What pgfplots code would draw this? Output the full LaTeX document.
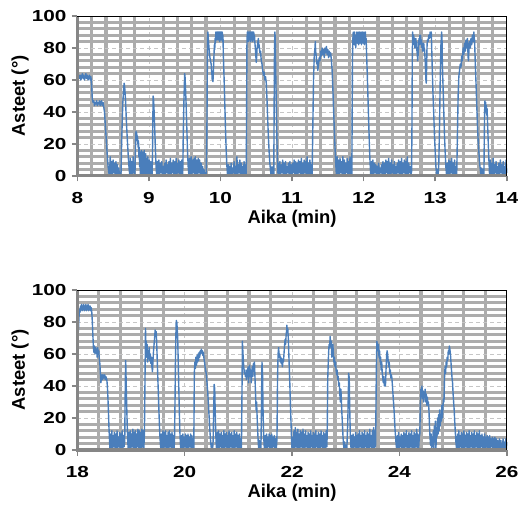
\documentclass[border=0pt]{standalone}
\usepackage{fontspec}
\setmainfont{Liberation Sans}
\usepackage{pgfplots}
\pgfplotsset{compat=1.18}
\definecolor{gridgray}{RGB}{172,172,172}
\definecolor{axgray}{RGB}{134,134,134}
\definecolor{lineblue}{RGB}{74,126,187}
\pgfplotsset{
 panel/.style={
  scale only axis, width=429.5bp, height=160bp,
  ymin=0, ymax=100, ytick={0,20,...,100},
  minor y tick num=4, minor x tick num=4,
  grid=both,
  minor grid style={draw=gridgray, line width=3.3bp},
  major grid style={draw=gray!45, line width=0.7bp, dash pattern=on 4bp off 3bp},
  axis line style={draw=none},
  tick align=outside, tick pos=left,
  major tick length=5.5bp, minor tick length=0bp,
  major tick style={draw=axgray, line width=1.5bp},
  /pgf/number format/assume math mode=true,
  ticklabel style={font=\fontsize{16}{16}\selectfont\bfseries, xscale=1.3, inner sep=0pt},
  yticklabel style={xshift=-4bp},
  xticklabel style={yshift=-11bp},
  label style={font=\fontsize{18.5}{18.5}\selectfont\bfseries, inner sep=0pt},
  xlabel style={at={(axis description cs:0.5,-0.212)}, anchor=north},
  ylabel style={at={(axis description cs:-0.122,0.5)}, anchor=base, rotate=0},
  xlabel={Aika (min)}, ylabel={Asteet (°)},
  clip=false,
 },
 dataline/.style={lineblue, line width=1.4bp, line join=round},
}
\newcommand{\frameaxes}{%
  \draw[axgray, line width=3bp] (rel axis cs:0,1) -- (rel axis cs:0,0) -- (rel axis cs:1,0);
  \draw[black, line width=0.9bp] (rel axis cs:0,1) -- (rel axis cs:1,1) -- (rel axis cs:1,0);
}
\begin{document}
\begin{tikzpicture}
\useasboundingbox (-77.3bp,-59bp) rectangle (440.7bp,450bp);
% ---------------- top panel ----------------
\begin{axis}[panel, at={(0,274bp)}, xmin=8, xmax=14, xtick={8,...,14}]
\addplot[dataline] coordinates {
(8.000,58)(8.004,76)(8.008,63)(8.015,61)(8.02,63)(8.03,61)(8.04,63)(8.05,60)(8.06,62)(8.07,64)(8.08,61)(8.09,63)(8.10,60)(8.11,62)(8.12,64)(8.13,61)(8.14,63)(8.15,60)(8.16,62)(8.17,63)(8.18,60)(8.19,62)(8.20,57)(8.21,48)(8.22,46)(8.23,47)(8.24,44)(8.25,46)(8.26,45)(8.27,47)(8.28,44)(8.29,46)(8.30,45)(8.31,47)(8.32,44)(8.33,46)(8.34,47)(8.35,44)(8.36,46)(8.37,43)(8.38,40)(8.39,33)(8.40,26)(8.41,19)(8.42,12)(8.43,6)(8.44,2)(8.45,0)
(8.46,12)(8.47,1)(8.48,9)(8.49,0)(8.50,10)(8.51,2)(8.52,8)(8.53,0)(8.54,9)(8.55,1)(8.56,7)(8.57,0)(8.58,5)(8.59,0)(8.60,2)
(8.61,0)(8.62,22)(8.635,45)(8.65,56)(8.655,58)(8.665,54)(8.675,46)(8.685,35)(8.695,26)(8.705,18)(8.715,10)(8.725,4)(8.735,0)
(8.74,11)(8.75,1)(8.76,9)(8.77,0)(8.78,12)(8.79,2)(8.80,7)(8.805,0)
(8.815,22)(8.82,28)(8.825,25)(8.83,27)(8.835,22)(8.84,25)(8.85,18)(8.855,22)(8.86,12)(8.865,18)(8.87,6)(8.875,15)(8.88,1)(8.885,14)(8.89,0)(8.895,16)(8.90,3)(8.905,12)(8.91,0)(8.915,15)(8.92,2)(8.925,11)(8.93,0)(8.935,16)(8.94,3)(8.945,12)(8.95,0)(8.955,14)(8.96,2)(8.965,11)(8.97,0)(8.975,9)(8.98,2)(8.985,12)(8.99,0)(8.995,8)(9.00,1)(9.005,10)(9.01,0)(9.015,8)(9.02,1)(9.025,9)(9.03,0)(9.035,6)(9.045,0)
(9.05,12)(9.055,35)(9.06,50)(9.065,48)(9.07,44)(9.08,32)(9.09,18)(9.10,6)(9.11,0)
(9.12,9)(9.13,1)(9.14,10)(9.15,0)(9.16,8)(9.17,2)(9.18,9)(9.19,0)(9.20,6)(9.21,1)(9.22,8)(9.23,0)(9.24,10)(9.25,2)(9.26,7)(9.27,0)(9.28,9)(9.29,1)(9.30,11)(9.31,0)(9.32,8)(9.33,2)(9.34,10)(9.35,0)(9.36,9)(9.37,1)(9.38,11)(9.39,0)(9.40,8)(9.41,2)(9.42,10)(9.43,0)(9.44,9)(9.45,1)(9.46,10)(9.47,0)
(9.475,6)(9.48,25)(9.49,48)(9.50,64)(9.505,62)(9.51,57)(9.52,45)(9.53,30)(9.54,15)(9.55,5)(9.56,0)
(9.57,11)(9.58,1)(9.59,12)(9.60,0)(9.61,10)(9.62,2)(9.63,11)(9.64,0)(9.65,12)(9.66,1)(9.67,10)(9.68,0)(9.69,11)(9.70,2)(9.71,10)(9.72,0)(9.73,8)(9.74,1)(9.75,6)(9.76,0)(9.77,4)(9.78,0)(9.79,2)(9.80,0)
(9.81,25)(9.815,60)(9.82,85)(9.825,90)(9.83,86)(9.84,80)(9.85,75)(9.86,72)(9.87,70)(9.875,66)(9.88,64)(9.885,60)(9.89,63)(9.895,59)(9.90,64)(9.905,70)(9.91,76)(9.915,82)(9.92,79)(9.925,86)(9.93,83)(9.935,90)(9.94,86)(9.945,90)(9.95,85)(9.955,90)(9.96,86)(9.965,90)(9.97,85)(9.975,90)(9.98,86)(9.985,90)(9.99,84)(9.995,90)(10.00,86)(10.005,90)(10.01,85)(10.015,90)(10.02,86)(10.025,90)(10.03,84)(10.035,88)(10.04,76)(10.05,62)(10.06,46)(10.07,30)(10.08,16)(10.09,6)(10.10,0)
(10.11,7)(10.12,0)(10.13,6)(10.14,1)(10.15,8)(10.16,0)(10.17,5)(10.18,2)(10.19,9)(10.20,0)(10.21,6)(10.22,1)(10.23,12)(10.24,0)(10.25,7)(10.26,2)(10.27,10)(10.28,0)(10.29,8)(10.30,1)(10.31,6)(10.32,0)(10.33,9)(10.34,1)(10.35,7)(10.36,0)
(10.365,40)(10.37,82)(10.375,90)(10.38,85)(10.385,90)(10.39,84)(10.395,90)(10.40,86)(10.405,90)(10.41,85)(10.415,90)(10.42,84)(10.425,90)(10.43,86)(10.435,90)(10.44,85)(10.445,90)(10.45,84)(10.455,90)(10.46,86)(10.465,90)(10.47,85)(10.475,88)(10.48,84)(10.49,78)(10.50,71)(10.505,74)(10.51,79)(10.52,83)(10.53,86)(10.535,80)(10.54,82)(10.55,77)(10.56,78)(10.57,72)(10.58,70)(10.59,66)(10.60,63)(10.61,65)(10.62,60)(10.63,62)(10.64,58)(10.65,48)(10.66,35)(10.67,24)(10.68,15)(10.69,8)(10.70,3)(10.71,0)
(10.72,6)(10.73,0)(10.74,4)(10.745,0)(10.75,45)(10.755,80)(10.76,90)(10.765,86)(10.77,70)(10.78,45)(10.79,20)(10.80,5)(10.805,0)
(10.81,8)(10.82,1)(10.83,9)(10.84,0)(10.85,7)(10.86,2)(10.87,10)(10.88,0)(10.89,8)(10.90,1)(10.91,9)(10.92,0)(10.93,6)(10.94,2)(10.95,8)(10.96,0)(10.97,9)(10.98,1)(10.99,7)(11.00,0)(11.01,8)(11.02,2)(11.03,10)(11.04,0)(11.05,9)(11.06,1)(11.07,8)(11.08,0)(11.09,10)(11.10,2)(11.11,9)(11.12,0)(11.13,11)(11.14,1)(11.15,8)(11.16,0)(11.17,10)(11.18,2)(11.19,9)(11.20,0)(11.21,12)(11.22,1)(11.23,8)(11.24,0)(11.25,10)(11.26,1)(11.27,7)(11.28,0)
(11.29,30)(11.30,60)(11.31,75)(11.32,80)(11.325,84)(11.33,78)(11.34,74)(11.345,70)(11.35,72)(11.36,66)(11.37,70)(11.38,74)(11.39,72)(11.40,78)(11.41,75)(11.42,80)(11.43,76)(11.44,79)(11.45,74)(11.46,80)(11.47,77)(11.48,81)(11.49,76)(11.50,79)(11.51,74)(11.52,78)(11.53,75)(11.54,77)(11.55,72)(11.56,66)(11.57,55)(11.58,42)(11.59,30)(11.60,18)(11.61,8)(11.62,0)
(11.63,12)(11.64,1)(11.65,10)(11.66,0)(11.67,11)(11.68,2)(11.69,9)(11.70,0)(11.71,12)(11.72,1)(11.73,10)(11.74,0)(11.75,8)(11.76,2)(11.77,11)(11.78,0)(11.79,9)(11.80,1)(11.81,12)(11.82,0)(11.83,6)(11.835,0)
(11.84,40)(11.845,75)(11.85,86)(11.855,90)(11.86,84)(11.865,89)(11.87,82)(11.875,90)(11.88,85)(11.885,88)(11.89,80)(11.895,87)(11.90,84)(11.905,90)(11.91,83)(11.915,88)(11.92,85)(11.925,90)(11.93,82)(11.935,88)(11.94,86)(11.945,90)(11.95,83)(11.955,89)(11.96,85)(11.965,90)(11.97,82)(11.975,88)(11.98,84)(11.985,90)(11.99,83)(11.995,87)(12.00,85)(12.005,90)(12.01,82)(12.015,88)(12.02,84)(12.025,90)(12.03,83)(12.035,86)(12.04,78)(12.05,65)(12.06,50)(12.07,35)(12.08,20)(12.09,8)(12.10,0)
(12.11,9)(12.12,1)(12.13,10)(12.14,0)(12.15,8)(12.16,2)(12.17,7)(12.18,0)(12.19,6)(12.20,1)(12.21,8)(12.22,0)(12.23,5)(12.24,2)(12.25,7)(12.26,0)(12.27,9)(12.28,1)(12.29,8)(12.30,0)(12.31,10)(12.32,2)(12.33,9)(12.34,0)(12.35,11)(12.36,1)(12.37,8)(12.38,0)(12.39,10)(12.40,2)(12.41,7)(12.42,0)(12.43,9)(12.44,1)(12.45,6)(12.46,0)(12.47,8)(12.48,2)(12.49,10)(12.50,0)(12.51,9)(12.52,1)(12.53,11)(12.54,0)(12.55,8)(12.56,2)(12.57,10)(12.58,0)(12.59,9)(12.60,1)(12.61,12)(12.62,0)(12.63,8)(12.64,2)(12.65,6)(12.66,0)(12.67,3)
(12.675,30)(12.68,75)(12.685,90)(12.69,86)(12.695,84)(12.70,88)(12.705,82)(12.71,86)(12.715,80)(12.72,85)(12.725,81)(12.73,86)(12.735,80)(12.74,84)(12.745,78)(12.75,76)(12.755,72)(12.76,75)(12.765,80)(12.77,84)(12.775,86)(12.78,82)(12.785,88)(12.79,85)(12.795,88)(12.80,84)(12.805,82)(12.81,85)(12.815,80)(12.82,83)(12.825,78)(12.83,82)(12.835,79)(12.84,83)(12.845,78)(12.85,80)(12.855,76)(12.86,72)(12.865,66)(12.87,60)(12.875,58)(12.88,68)(12.885,80)(12.89,85)(12.90,84)(12.91,88)(12.92,86)(12.93,90)(12.94,88)(12.945,90)(12.95,82)(12.96,65)(12.97,50)(12.98,38)(12.99,25)(13.00,15)(13.01,6)(13.02,0)
(13.03,4)(13.04,0)(13.05,8)(13.06,30)(13.07,60)(13.08,82)(13.09,90)(13.095,86)(13.10,70)(13.11,55)(13.12,40)(13.13,25)(13.14,14)(13.15,5)(13.16,0)
(13.17,8)(13.18,1)(13.19,10)(13.20,0)(13.21,9)(13.22,2)(13.23,11)(13.24,0)(13.25,8)(13.26,1)(13.27,10)(13.28,0)(13.29,6)(13.30,0)
(13.31,25)(13.32,50)(13.33,62)(13.34,66)(13.35,70)(13.36,68)(13.37,75)(13.38,72)(13.39,80)(13.40,76)(13.41,83)(13.42,78)(13.43,85)(13.44,80)(13.45,86)(13.46,74)(13.465,72)(13.47,78)(13.48,84)(13.49,80)(13.50,86)(13.51,82)(13.52,88)(13.53,84)(13.54,90)(13.545,86)(13.55,85)(13.56,70)(13.57,58)(13.58,45)(13.59,32)(13.60,22)(13.61,15)(13.62,8)(13.63,4)(13.64,0)(13.65,5)(13.66,0)(13.67,4)(13.68,0)
(13.685,20)(13.69,40)(13.695,47)(13.70,42)(13.705,46)(13.71,40)(13.715,44)(13.72,38)(13.725,42)(13.73,35)(13.74,22)(13.75,10)(13.76,0)
(13.77,10)(13.78,0)(13.79,8)(13.80,1)(13.81,11)(13.82,0)(13.83,7)(13.84,2)(13.85,9)(13.86,0)(13.87,6)(13.88,1)(13.89,8)(13.90,0)(13.91,10)(13.92,2)(13.93,7)(13.94,0)(13.95,9)(13.96,1)(13.97,6)(13.98,0)(13.99,10)(14.00,2)
};
\frameaxes
\end{axis}
% ---------------- bottom panel ----------------
\begin{axis}[panel, at={(0,0)}, xmin=18, xmax=26, xtick={18,20,...,26}]
\addplot[dataline] coordinates {
(18.000,60)(18.005,70)(18.01,66)(18.015,76)(18.02,74)(18.03,82)(18.04,88)(18.05,86)(18.06,90)(18.07,88)(18.08,91)(18.09,87)(18.10,90)(18.11,88)(18.12,91)(18.13,87)(18.14,90)(18.15,88)(18.16,91)(18.17,87)(18.18,90)(18.19,88)(18.20,91)(18.21,87)(18.22,90)(18.23,88)(18.24,90)(18.25,87)(18.26,89)(18.27,86)(18.28,80)(18.29,72)(18.30,64)(18.31,61)(18.32,65)(18.33,60)(18.34,64)(18.35,61)(18.36,63)(18.37,58)(18.38,64)(18.39,60)(18.40,62)(18.41,57)(18.42,54)(18.43,48)(18.44,42)(18.45,46)(18.46,47)(18.47,44)(18.48,47)(18.49,45)(18.50,46)(18.51,47)(18.52,44)(18.53,46)(18.54,45)(18.55,44)(18.56,40)(18.57,33)(18.58,24)(18.59,14)(18.60,6)(18.61,0)
(18.62,10)(18.632,1)(18.644,12)(18.656,0)(18.668,9)(18.68,2)(18.692,11)(18.704,0)(18.716,10)(18.728,1)(18.74,12)(18.752,0)(18.764,8)(18.776,2)(18.788,11)(18.80,0)(18.812,10)(18.824,1)(18.836,12)(18.848,0)(18.86,9)(18.872,2)(18.884,6)
(18.89,30)(18.90,56)(18.905,52)(18.91,42)(18.92,28)(18.93,15)(18.94,5)(18.95,0)
(18.962,11)(18.974,1)(18.986,12)(18.998,0)(19.01,10)(19.022,2)(19.034,13)(19.046,0)(19.058,11)(19.07,1)(19.082,12)(19.094,0)(19.106,10)(19.118,2)(19.13,13)(19.142,0)(19.154,12)(19.166,1)(19.178,11)(19.19,0)(19.202,13)(19.214,2)(19.226,12)(19.238,0)(19.25,10)
(19.26,40)(19.27,76)(19.275,70)(19.28,60)(19.285,68)(19.29,58)(19.30,66)(19.31,55)(19.32,62)(19.33,57)(19.34,64)(19.35,56)(19.36,60)(19.37,54)(19.38,58)(19.39,52)(19.40,49)(19.41,56)(19.42,62)(19.43,66)(19.44,70)(19.45,75)(19.46,71)(19.47,74)(19.48,66)(19.49,55)(19.50,45)(19.51,35)(19.52,25)(19.53,15)(19.54,8)(19.55,3)(19.56,0)
(19.572,10)(19.584,1)(19.596,12)(19.608,0)(19.62,11)(19.632,2)(19.644,12)(19.656,0)(19.668,9)(19.68,1)(19.692,11)(19.704,0)(19.716,12)(19.728,2)(19.74,10)(19.752,0)(19.764,11)(19.776,1)(19.788,9)(19.80,0)(19.81,5)
(19.82,30)(19.83,60)(19.84,78)(19.845,81)(19.85,79)(19.855,80)(19.86,76)(19.87,70)(19.88,55)(19.89,40)(19.90,25)(19.91,12)(19.92,4)(19.93,0)
(19.942,9)(19.954,1)(19.966,10)(19.978,0)(19.99,8)(20.002,2)(20.014,10)(20.026,0)(20.038,9)(20.05,1)(20.062,10)(20.074,0)(20.086,8)(20.098,2)(20.11,10)(20.122,0)(20.134,9)(20.146,1)(20.158,7)(20.17,0)
(20.175,25)(20.18,48)(20.19,55)(20.20,51)(20.21,58)(20.22,53)(20.23,59)(20.24,55)(20.25,60)(20.26,56)(20.27,61)(20.28,58)(20.29,62)(20.30,60)(20.31,63)(20.32,61)(20.33,62)(20.34,59)(20.35,61)(20.36,57)(20.37,55)(20.38,52)(20.39,50)(20.40,48)(20.41,45)(20.42,40)(20.43,36)(20.44,30)(20.45,24)(20.46,18)(20.47,12)(20.48,7)(20.49,3)(20.50,0)(20.51,4)(20.52,0)(20.53,6)(20.54,25)(20.55,41)(20.56,38)(20.565,30)(20.575,15)(20.585,5)(20.595,0)
(20.61,11)(20.622,1)(20.634,12)(20.646,0)(20.658,10)(20.67,2)(20.682,11)(20.694,0)(20.706,9)(20.718,1)(20.73,12)(20.742,0)(20.754,10)(20.766,2)(20.778,11)(20.79,0)(20.802,9)(20.814,1)(20.826,12)(20.838,0)(20.85,10)(20.862,2)(20.874,11)(20.886,0)(20.898,9)(20.91,1)(20.922,12)(20.934,0)(20.946,10)(20.958,2)(20.97,11)(20.982,0)(20.994,9)(21.006,1)(21.018,10)(21.03,0)(21.042,7)(21.054,0)
(21.06,10)(21.07,45)(21.075,68)(21.08,64)(21.09,58)(21.10,52)(21.11,48)(21.12,50)(21.13,46)(21.14,48)(21.15,44)(21.16,50)(21.17,46)(21.18,52)(21.19,42)(21.20,48)(21.21,53)(21.22,46)(21.23,50)(21.24,42)(21.25,48)(21.26,52)(21.27,46)(21.28,54)(21.29,50)(21.30,55)(21.31,45)(21.32,35)(21.33,25)(21.34,30)(21.35,20)(21.36,12)(21.37,5)(21.38,0)(21.39,6)(21.40,0)(21.41,4)(21.42,0)(21.43,25)(21.44,55)(21.45,48)(21.46,25)(21.47,10)(21.48,3)(21.49,0)
(21.502,9)(21.514,1)(21.526,10)(21.538,0)(21.55,8)(21.562,2)(21.574,10)(21.586,0)(21.598,9)(21.61,1)(21.622,10)(21.634,0)(21.646,8)(21.658,2)(21.67,9)(21.682,0)(21.694,7)(21.706,1)(21.715,4)
(21.72,10)(21.73,45)(21.74,60)(21.75,64)(21.76,58)(21.77,60)(21.78,55)(21.79,58)(21.80,54)(21.81,57)(21.82,52)(21.83,56)(21.84,55)(21.85,60)(21.86,65)(21.87,69)(21.88,66)(21.89,72)(21.90,75)(21.905,78)(21.91,74)(21.92,76)(21.93,70)(21.94,60)(21.95,50)(21.96,40)(21.97,28)(21.98,18)(21.99,8)(22.00,0)
(22.012,8)(22.024,1)(22.036,12)(22.048,0)(22.06,14)(22.072,2)(22.084,11)(22.096,0)(22.108,13)(22.12,1)(22.132,10)(22.144,0)(22.156,12)(22.168,2)(22.18,11)(22.192,0)(22.204,13)(22.216,1)(22.228,10)(22.24,0)(22.252,12)(22.264,2)(22.276,9)(22.288,0)(22.30,11)(22.312,1)(22.324,10)(22.336,0)(22.348,12)(22.36,2)(22.372,9)(22.384,0)(22.396,11)(22.408,1)(22.42,10)(22.432,0)(22.444,12)(22.456,2)(22.468,9)(22.48,0)(22.492,11)(22.504,1)(22.516,10)(22.528,0)(22.54,12)(22.552,2)(22.564,9)(22.576,0)(22.588,11)(22.60,1)(22.612,10)(22.624,0)(22.636,12)(22.648,2)
(22.655,10)(22.665,45)(22.68,60)(22.69,66)(22.70,64)(22.71,71)(22.72,65)(22.73,68)(22.74,58)(22.75,62)(22.76,66)(22.77,60)(22.78,55)(22.79,58)(22.80,52)(22.81,55)(22.82,50)(22.83,47)(22.84,50)(22.85,44)(22.86,46)(22.87,40)(22.88,42)(22.89,35)(22.90,30)(22.91,38)(22.92,30)(22.93,22)(22.94,15)(22.95,8)(22.96,3)(22.97,0)(22.98,5)(22.99,0)(23.00,3)(23.02,0)(23.04,20)(23.055,48)(23.065,45)(23.075,25)(23.085,10)(23.10,0)
(23.112,9)(23.124,1)(23.136,10)(23.148,0)(23.16,8)(23.172,2)(23.184,11)(23.196,0)(23.208,9)(23.22,1)(23.232,10)(23.244,0)(23.256,12)(23.268,2)(23.28,9)(23.292,0)(23.304,11)(23.316,1)(23.328,10)(23.34,0)(23.352,12)(23.364,2)(23.376,9)(23.388,0)(23.40,11)(23.412,1)(23.424,10)(23.436,0)(23.448,13)(23.46,2)(23.472,9)(23.484,0)(23.496,12)(23.508,1)(23.52,14)(23.532,0)(23.544,12)(23.555,2)
(23.56,15)(23.57,50)(23.58,68)(23.59,65)(23.60,62)(23.61,66)(23.62,58)(23.63,62)(23.64,55)(23.65,58)(23.66,50)(23.67,55)(23.68,48)(23.69,45)(23.70,42)(23.71,46)(23.72,40)(23.73,44)(23.74,40)(23.75,50)(23.76,58)(23.77,62)(23.78,60)(23.79,56)(23.80,52)(23.81,55)(23.82,48)(23.83,50)(23.84,45)(23.85,47)(23.86,45)(23.88,35)(23.90,25)(23.92,12)(23.94,3)(23.95,0)
(23.962,9)(23.974,1)(23.986,11)(23.998,0)(24.01,8)(24.022,2)(24.034,10)(24.046,0)(24.058,9)(24.07,1)(24.082,11)(24.094,0)(24.106,10)(24.118,2)(24.13,12)(24.142,0)(24.154,9)(24.166,1)(24.178,11)(24.19,0)(24.202,10)(24.214,2)(24.226,12)(24.238,0)(24.25,9)(24.262,1)(24.274,11)(24.286,0)(24.298,10)(24.31,2)(24.322,13)(24.334,0)(24.346,10)(24.358,1)(24.37,8)
(24.38,10)(24.39,28)(24.40,38)(24.41,34)(24.42,40)(24.43,32)(24.44,37)(24.45,30)(24.46,36)(24.47,33)(24.48,38)(24.49,30)(24.50,35)(24.51,28)(24.52,33)(24.53,28)(24.54,30)(24.55,25)(24.56,15)(24.57,8)(24.58,3)(24.59,10)(24.60,0)(24.61,8)(24.62,2)(24.63,12)(24.64,0)(24.65,15)(24.66,5)(24.67,18)(24.68,0)(24.69,14)(24.70,8)(24.71,20)(24.72,10)(24.73,22)(24.74,12)(24.75,25)(24.76,15)(24.77,22)(24.78,18)(24.79,28)(24.80,20)(24.81,26)(24.82,32)(24.83,30)(24.84,45)(24.85,52)(24.86,48)(24.87,55)(24.88,52)(24.89,58)(24.90,56)(24.91,62)(24.92,60)(24.93,65)(24.94,63)(24.95,60)(24.96,55)(24.97,50)(24.98,45)(24.99,42)(25.00,35)(25.01,30)(25.02,25)(25.03,18)(25.04,12)(25.05,6)(25.06,2)(25.07,0)
(25.082,10)(25.094,1)(25.106,12)(25.118,0)(25.13,9)(25.142,2)(25.154,11)(25.166,0)(25.178,10)(25.19,1)(25.202,12)(25.214,0)(25.226,9)(25.238,2)(25.25,11)(25.262,0)(25.274,10)(25.286,1)(25.298,12)(25.31,0)(25.322,9)(25.334,2)(25.346,11)(25.358,0)(25.37,10)(25.382,1)(25.394,12)(25.406,0)(25.418,9)(25.43,2)(25.442,11)(25.454,0)(25.466,10)(25.478,1)(25.49,12)(25.502,0)(25.514,9)(25.526,2)(25.538,10)(25.55,0)(25.562,8)(25.574,1)(25.586,10)(25.598,0)(25.61,8)(25.622,2)(25.634,9)(25.646,0)(25.658,8)(25.67,1)(25.682,9)(25.694,0)(25.706,7)(25.718,2)(25.73,8)(25.742,0)(25.754,7)(25.766,1)(25.778,8)(25.79,0)(25.802,7)(25.814,1)(25.826,6)(25.838,0)(25.85,0)(25.86,7)(25.87,0)(25.88,0)(25.89,6)(25.90,0)(25.92,0)(25.93,7)(25.94,0)(25.95,5)(25.96,0)(25.975,0)(25.98,7)(25.99,0)(26.00,5)
};
\frameaxes
\end{axis}
\end{tikzpicture}
\end{document}
